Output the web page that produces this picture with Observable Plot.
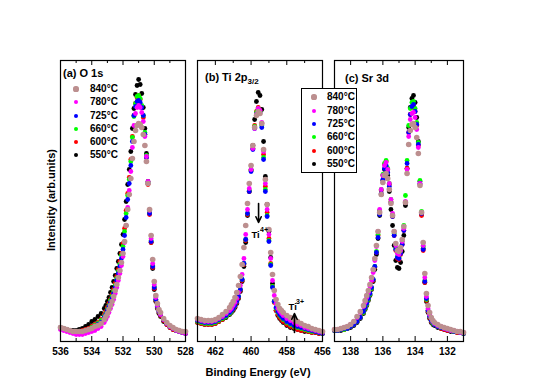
<!DOCTYPE html>
<html><head><meta charset="utf-8">
<script src="https://cdn.jsdelivr.net/npm/d3@7"></script>
<script src="https://cdn.jsdelivr.net/npm/@observablehq/plot@0.6"></script>
<style>
body{margin:0;background:#fff;}
#chart{position:relative;width:554px;height:391px;overflow:hidden;font-family:"Liberation Sans",Arial,Helvetica,sans-serif;font-weight:bold;color:#000;}
#chart svg{position:absolute;}
.txt{position:absolute;white-space:nowrap;}
.ptitle{font-size:11px;line-height:11px;}
.ptitle sub{font-size:8px;vertical-align:-3px;line-height:0;}
.lrow{position:absolute;font-size:10px;line-height:12px;height:12px;white-space:nowrap;}
.ldot{position:absolute;border-radius:50%;}
.lbox{position:absolute;border:1px solid #000;background:#fff;box-sizing:border-box;}
</style></head>
<body><div id="chart"></div>
<script>
// ---------- series ----------
const seriesLabels = ["840°C","780°C","725°C","660°C","600°C","550°C"];
const seriesColors = ["#bc8f8f","#ff00ff","#0000ff","#00ff00","#ff0000","#000000"];
const drawOrder = ["550°C","600°C","660°C","725°C","780°C","840°C"];

// ---------- (a) O 1s ----------
const energyO1s = [536.0,535.8,535.6,535.4,535.2,535.0,534.8,534.6,534.4,534.2,534.0,533.8,533.6,533.4,533.2,
 533.1,533.0,532.9,532.8,532.7,532.6,532.5,532.4,532.3,532.2,
 532.1,532.0,531.9,531.8,531.7,531.6,531.5,531.4,531.3,531.2,
 531.1,531.0,530.9,530.8,530.7,530.6,530.5,530.4,530.3,530.2,
 530.1,530.0, 529.9,529.8,529.7,529.6, 529.4,529.2,529.0,528.8,528.6,528.4,528.2,528.0];
const o1s_550 = [14,13,12,11,11,11,12,13,15,17,20,22,25,28,33, 36,40,44,49,54,60,66,73,80,88, 97,107,122,140,157,172,190,213,233,247, 256,262,257,248,234,213,188,160,128,99, 73,52, 40,33,28,25, 20,17,14,12,11,10,9,9];
const o1s_600 = [13,12,11,10,10,10,10,11,12,13,15,17,19,22,27, 30,34,38,42,47,52,58,65,72,80, 88,98,113,131,148,164,182,205,226,238, 244,246,242,235,224,207,184,157,127,99, 74,53, 41,34,29,26, 21,17,14,12,11,10,9,8];
const o1s_660 = [13,12,11,10,9,9,10,10,11,12,14,16,18,21,25, 28,32,36,41,45,50,56,63,70,77, 86,95,110,128,146,162,180,204,225,238, 245,246,243,236,226,209,186,159,129,101, 76,55, 42,35,30,27, 22,18,15,13,11,10,9,8];
const o1s_725 = [13,12,11,10,9,9,9,10,10,11,13,15,17,19,24, 27,31,35,39,43,48,54,61,68,75, 83,92,106,124,142,158,176,200,226,235, 240,241,239,234,226,207,184,158,128,100, 75,54, 42,35,30,27, 22,18,15,13,11,10,9,8];
const o1s_780 = [12,11,10,9,8,7,7,7,8,9,10,11,13,15,19, 22,25,29,33,37,42,48,54,61,68, 76,85,99,116,134,151,170,194,216,228, 234,236,234,229,220,205,185,160,131,103, 78,57, 44,36,31,27, 22,18,15,13,11,10,9,8];
const o1s_840 = [14,13,12,11,10,10,10,10,11,12,13,15,16,18,22, 25,28,32,36,40,45,51,57,64,71, 79,88,100,116,132,147,163,183,200,211, 216,218,217,214,207,196,180,158,132,106, 82,60, 46,38,32,29, 23,19,16,14,12,11,10,10];

// ---------- (b) Ti 2p3/2 ----------
const energyTi = [463.0,462.8,462.6,462.4,462.2,462.0,461.8,461.6,461.4,461.2,
 461.1,461.0,460.9,460.8,460.7,460.6,460.5,460.4,460.3,460.2,
 460.1,460.0,459.9,459.8,459.7,459.6,459.5,459.4,459.3,459.2,
 459.1,459.0,458.9,458.8,458.7,458.6,458.5,458.4,458.3,
 458.2,458.0,457.8,457.6,457.4,457.2,457.0,456.8,456.6,456.4,456.2,456.0];
const ti_550 = [19,18,17,17,17,18,20,22,24,27, 29,31,34,38,43,50,60,75,99,126, 150,172,196,222,240,249,246,232,200,165, 137,110,84,58,40,31,26,23,21, 19,16,14,13,12,11,10,10,9,9,8,8];
const ti_600 = [19,18,17,17,17,18,20,22,25,28, 30,32,35,39,44,51,61,77,101,127, 150,171,193,216,230,234,231,218,187,155, 129,103,78,55,39,31,27,24,22, 20,17,15,14,12,11,11,10,9,9,8,8];
const ti_660 = [20,19,18,18,18,19,21,23,25,28, 30,33,36,40,45,52,62,78,102,128, 151,171,193,215,229,233,230,216,184,152, 126,101,77,55,40,33,29,26,24, 22,19,17,15,14,13,12,11,10,10,9,8];
const ti_725 = [21,20,19,19,19,20,22,24,26,29, 31,33,36,40,45,52,62,78,102,128, 150,170,192,213,227,232,229,214,182,150, 125,100,76,54,40,34,30,27,25, 23,20,18,16,15,14,13,12,11,10,9,8];
const ti_780 = [22,21,20,20,20,21,23,25,28,31, 33,36,39,43,49,56,67,83,107,132, 153,172,193,213,227,233,231,219,190,158, 132,107,83,61,46,38,33,30,28, 26,23,21,19,17,16,14,13,12,11,10,9];
const ti_840 = [23,22,21,21,21,22,24,27,30,34, 37,40,44,49,56,65,77,94,116,138, 158,176,196,214,226,230,228,218,192,162, 137,112,89,67,51,42,37,33,31, 29,26,24,22,20,18,16,15,13,12,11,10];

// annotations in (b)
const tiArrows = [{E:459.58, from:138, to:119}, {E:457.57, from:9, to:28}];
const tiNames = [{E:459.98, I:107, t:"Ti"}, {E:457.90, I:35, t:"Ti"}];
const tiCharges = [{E:459.50, I:112, t:"4+"}, {E:457.48, I:40, t:"3+"}];

// ---------- (c) Sr 3d ----------
const energySr = [139.0,138.8,138.6,138.4,138.2,138.0,137.8,137.6,137.4,137.2,
 137.1,137.0,136.9,136.8,136.7,136.6,136.5,136.4,136.3,136.2,
 136.1,136.0,135.9,135.8,135.7,135.6,135.5,135.4,135.3,135.2,
 135.1,135.0,134.9,134.8,134.7,134.6,134.5,134.4,134.3,134.2,
 134.1,134.0,133.9,133.8,133.7,133.6,133.5,133.4,133.3,133.2,
 133.1,133.0,132.9, 132.8,132.6,132.4,132.2,132.0,131.8,131.6,131.4,131.2,131.0];
const sr_550 = [11,11,11,12,13,14,16,19,23,28, 32,36,41,46,52,60,72,87,103,126, 147,161,172,175,166,150,132,116,96,81, 74,73,79,90,106,136,173,214,234,243, 246,239,224,200,160,127,93,59,40,29, 23,19,17, 16,14,13,12,11,10,10,9,9,8];
const sr_600 = [11,11,12,12,13,15,17,20,24,29, 33,37,42,47,53,61,74,89,106,130, 151,166,177,180,172,157,140,125,106,91, 83,82,87,97,111,139,173,209,227,234, 236,230,216,196,157,126,91,59,41,30, 24,20,18, 17,15,13,12,11,11,10,9,9,8];
const sr_660 = [11,11,12,12,13,15,17,20,24,29, 33,37,42,47,53,62,75,90,107,131, 152,167,178,181,173,158,142,127,108,93, 85,84,90,100,116,146,181,216,233,239, 240,233,219,199,161,130,95,61,42,31, 25,21,18, 17,15,14,13,12,11,10,10,9,8];
const sr_725 = [11,11,12,13,13,15,17,20,24,30, 34,38,43,48,54,62,75,89,104,127, 148,162,173,176,169,155,139,125,106,92, 84,83,88,97,111,139,178,209,227,235, 237,230,217,197,158,128,92,60,43,31, 25,21,19, 17,15,14,13,12,11,10,10,9,8];
const sr_780 = [12,12,13,14,15,17,20,24,29,35, 39,44,49,55,61,69,81,95,110,132, 152,166,176,179,172,158,142,128,110,96, 88,87,91,100,113,140,172,205,222,228, 229,224,212,194,158,129,96,64,45,33, 27,23,20, 18,16,15,13,12,11,11,10,9,9];
const sr_840 = [12,12,13,14,15,17,20,25,30,36, 41,46,51,57,64,72,83,96,110,129, 147,159,166,168,163,152,138,126,110,98, 91,90,94,102,115,139,168,197,211,217, 218,214,204,188,156,129,99,68,48,36, 29,24,21, 19,17,15,14,13,12,11,10,10,9];

// ---------- axes ----------
const ticksO1s = [536,534,532,530,528], minorO1s = [535,533,531,529];
const ticksTi = [462,460,458,456], minorTi = [463,461,459,457];
const ticksSr = [138,136,134,132], minorSr = [139,137,135,133,131];

// ---------- build ----------
function rows(energy, table) {
  const out = [];
  for (const [s, vals] of Object.entries(table)) vals.forEach((v, i) => out.push({E: energy[i], I: v, s}));
  return out;
}
const dataO1s = rows(energyO1s, {"550°C":o1s_550,"600°C":o1s_600,"660°C":o1s_660,"725°C":o1s_725,"780°C":o1s_780,"840°C":o1s_840});
const dataTi = rows(energyTi, {"550°C":ti_550,"600°C":ti_600,"660°C":ti_660,"725°C":ti_725,"780°C":ti_780,"840°C":ti_840});
const dataSr = rows(energySr, {"550°C":sr_550,"600°C":sr_600,"660°C":sr_660,"725°C":sr_725,"780°C":sr_780,"840°C":sr_840});

const FH = 281, ML = 16, MR = 16, MT = 1, MB = 30;
function panel({domain, frameW, data, major, minor, extra = []}) {
  const marks = [];
  for (const lbl of drawOrder) {
    marks.push(Plot.dot(data.filter(d => d.s === lbl), {x: "E", y: "I", fill: "s", r: lbl === "840°C" ? 2.8 : 2.4}));
  }
  marks.push(...extra);
  marks.push(Plot.ruleX(major, {x: d => d, insetTop: FH - 5, stroke: "#000"}));
  marks.push(Plot.ruleX(major, {x: d => d, insetBottom: FH - 5, stroke: "#000"}));
  marks.push(Plot.ruleX(minor, {x: d => d, insetTop: FH - 3, stroke: "#000"}));
  marks.push(Plot.ruleX(minor, {x: d => d, insetBottom: FH - 3, stroke: "#000"}));
  marks.push(Plot.axisX(major, {anchor: "bottom", tickSize: 0, tickPadding: 6, fontSize: 10, fontWeight: "bold", label: null, tickFormat: d => String(d)}));
  marks.push(Plot.frame({stroke: "#000", strokeWidth: 1.2}));
  return Plot.plot({
    width: frameW + ML + MR, height: FH + MT + MB,
    marginLeft: ML, marginRight: MR, marginTop: MT, marginBottom: MB,
    x: {domain},
    y: {domain: [0, FH], axis: null},
    color: {domain: seriesLabels, range: seriesColors},
    style: {background: "transparent", fontFamily: "'Liberation Sans', Arial, Helvetica, sans-serif", color: "#000", overflow: "visible"},
    marks
  });
}

const chart = document.getElementById("chart");
function place(el, left, top) { el.style.left = left + "px"; el.style.top = top + "px"; chart.appendChild(el); }

const tiExtra = [
  Plot.arrow(tiArrows, {x1: "E", x2: "E", y1: "from", y2: "to", stroke: "#000", strokeWidth: 1.6, headLength: 6, headAngle: 50}),
  Plot.text(tiNames, {x: "E", y: "I", text: "t", textAnchor: "start", fontSize: 9.5, fontWeight: "bold"}),
  Plot.text(tiCharges, {x: "E", y: "I", text: "t", textAnchor: "start", fontSize: 7, fontWeight: "bold"})
];

place(panel({domain: [536, 528], frameW: 125, data: dataO1s, major: ticksO1s, minor: minorO1s}), 60 - ML, 60 - MT);
place(panel({domain: [463, 456], frameW: 125, data: dataTi, major: ticksTi, minor: minorTi, extra: tiExtra}), 197 - ML, 60 - MT);
place(panel({domain: [139, 131], frameW: 129, data: dataSr, major: ticksSr, minor: minorSr}), 334 - ML, 60 - MT);

// titles
function addText(html, cls, left, top, extraStyle = "") {
  const d = document.createElement("div");
  d.className = "txt " + cls; d.innerHTML = html; d.style.cssText += extraStyle;
  place(d, left, top); return d;
}
addText("(a) O 1s", "ptitle", 63, 67.5);
addText("(b) Ti 2p<sub>3/2</sub>", "ptitle", 205, 71.5);
addText("(c) Sr 3d", "ptitle", 345, 72.5);
addText("Binding Energy (eV)", "ptitle", 258, 366.5, "transform:translateX(-50%);");
addText("Intensity (arb.units)", "ptitle", 51, 200, "transform:translate(-50%,-50%) rotate(-90deg);");

// legends
function legend(dotX, textX, rowYs) {
  seriesLabels.forEach((lbl, i) => {
    const r = lbl === "840°C" ? 2.6 : 2.1;
    const dot = document.createElement("div");
    dot.className = "ldot";
    dot.style.width = dot.style.height = (2 * r) + "px";
    dot.style.background = seriesColors[i];
    place(dot, dotX - r, rowYs[i] - r);
    const t = document.createElement("div");
    t.className = "lrow"; t.textContent = lbl;
    place(t, textX, rowYs[i] - 6);
  });
}
legend(76, 90, [89, 102, 116, 129, 142, 155]);
const box = document.createElement("div");
box.className = "lbox"; box.style.width = "56px"; box.style.height = "85px";
place(box, 301, 88);
legend(314, 327, [97, 111, 124, 137, 151, 164]);
</script></body></html>
